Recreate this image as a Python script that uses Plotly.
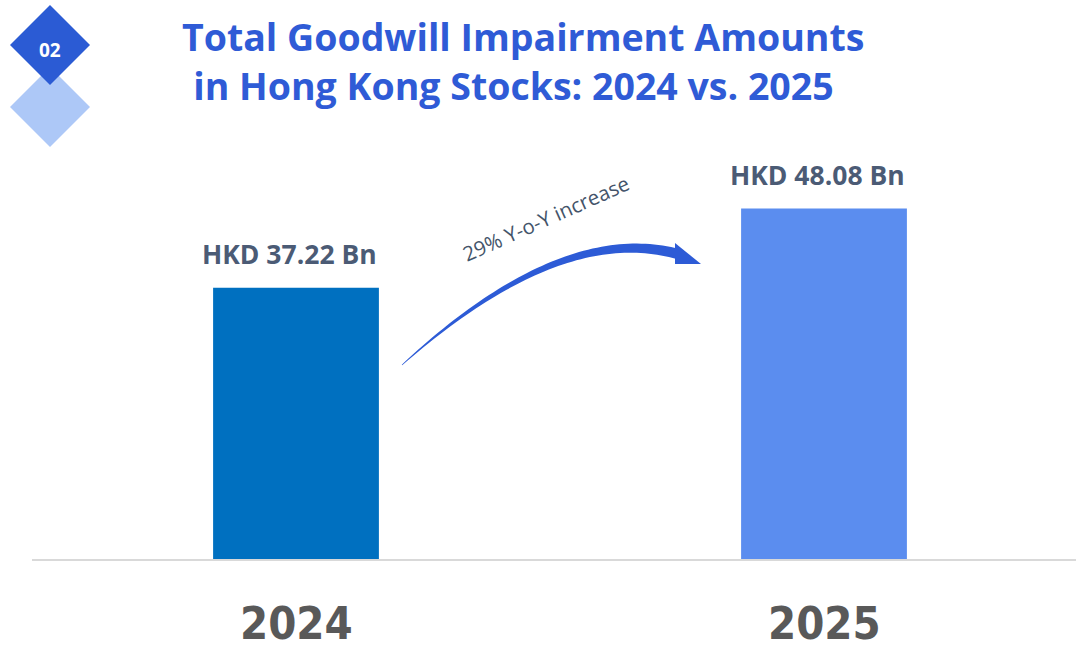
import numpy as np
import plotly.graph_objects as go

# Data
years = ["2024", "2025"]
amounts_bn = [37.22, 48.08]
bar_colors = ["#0070c0", "#5b8def"]
value_labels = ["HKD 37.22 Bn", "HKD 48.08 Bn"]
growth_label = "29% Y-o-Y increase"
title_lines = ["Total Goodwill Impairment Amounts", "in Hong Kong Stocks: 2024 vs. 2025\u00a0\u00a0"]

W, H = 1076, 648
M_L, M_R, M_T, M_B = 32, 0, 150, 89
PW, PH = W - M_L - M_R, H - M_T - M_B


def px_to_paper(px, py):
    """Convert page pixel coordinates to paper coordinates."""
    return (px - M_L) / PW, (H - M_B - py) / PH


def poly_path(points):
    return "M " + " L ".join(
        f"{px_to_paper(x, y)[0]:.5f},{px_to_paper(x, y)[1]:.5f}" for x, y in points
    ) + " Z"


x_pos = list(range(len(years)))

fig = go.Figure()
fig.add_trace(go.Bar(
    x=x_pos,
    y=amounts_bn,
    width=0.314,
    marker=dict(color=bar_colors, line=dict(width=0)),
    hoverinfo="skip",
))

# Value labels above bars
for xi, v, lab in zip(x_pos, amounts_bn, value_labels):
    fig.add_annotation(
        x=xi, y=v, xref="x", yref="y", text=f"<b>{lab}</b>",
        showarrow=False, xanchor="center", yanchor="bottom", yshift=14, xshift=-7,
        font=dict(family="Open Sans", size=26.5, color="#4b5b75"),
    )

# Year labels under the axis
year_font = "DejaVu Sans Condensed, Liberation Sans Narrow, Arial Narrow, DejaVu Sans, sans-serif"
for xi, yr in zip(x_pos, years):
    fig.add_annotation(
        x=xi, y=0, xref="x", yref="y", text=f"<b>{yr}</b>",
        showarrow=False, xanchor="center", yanchor="middle", yshift=-64,
        font=dict(family=year_font, size=45, color="#595959"),
    )

# Curved tapering arrow between the bars
p0 = np.array([402.0, 365.0])
p1 = np.array([560.0, 222.0])
p2 = np.array([678.0, 254.0])
t = np.linspace(0, 1, 60)
pts = ((1 - t) ** 2)[:, None] * p0 + (2 * (1 - t) * t)[:, None] * p1 + (t ** 2)[:, None] * p2
d = (2 * (1 - t))[:, None] * (p1 - p0) + (2 * t)[:, None] * (p2 - p1)
n = np.stack([-d[:, 1], d[:, 0]], axis=1)
n /= np.linalg.norm(n, axis=1)[:, None]
half = 0.3 + 5.0 * t ** 0.8
upper = pts + n * half[:, None]
lower = pts - n * half[:, None]
fig.add_shape(type="path", xref="paper", yref="paper",
              path=poly_path(np.vstack([upper, lower[::-1]])),
              fillcolor="#2d5bd6", line=dict(width=0), layer="above")
fig.add_shape(type="path", xref="paper", yref="paper",
              path=poly_path([(675, 243), (701, 264), (675, 264)]),
              fillcolor="#2d5bd6", line=dict(width=0), layer="above")

gx, gy = px_to_paper(546, 218)
fig.add_annotation(
    x=gx, y=gy, xref="paper", yref="paper", text=growth_label,
    showarrow=False, textangle=-24, xanchor="center", yanchor="middle",
    font=dict(family="Open Sans", size=20.5, color="#44546a"),
)


# Badge: two diamonds with the section number
def diamond(cx, cy, r):
    return poly_path([(cx, cy - r), (cx + r, cy), (cx, cy + r), (cx - r, cy)])


fig.add_shape(type="path", xref="paper", yref="paper", path=diamond(50, 107, 40),
              fillcolor="#adc8f7", line=dict(width=0), layer="above")
fig.add_shape(type="path", xref="paper", yref="paper", path=diamond(50, 45, 40),
              fillcolor="#2b5bd4", line=dict(width=0), layer="above")
bx, by = px_to_paper(50, 50)
fig.add_annotation(x=bx, y=by, xref="paper", yref="paper", text="<b>02</b>",
                   showarrow=False, xanchor="center", yanchor="middle",
                   font=dict(family="Open Sans", size=19, color="white"))

# Two-line title
tx, ty = px_to_paper(523, 61)
fig.add_annotation(x=tx, y=ty, xref="paper", yref="paper",
                   text="<b>" + "<br>".join(title_lines) + "</b>",
                   showarrow=False, xanchor="center", yanchor="middle", align="center",
                   font=dict(family="Open Sans", size=37.5, color="#2f5bd6"))

fig.update_layout(
    width=W, height=H,
    margin=dict(l=M_L, r=M_R, t=M_T, b=M_B, autoexpand=False),
    paper_bgcolor="white", plot_bgcolor="white",
    showlegend=False,
    xaxis=dict(
        range=[-0.5, PW / 528 - 0.5],
        showticklabels=False, ticks="", automargin=False,
        showline=True, linecolor="#d9d9d9", linewidth=2,
        showgrid=False, zeroline=False, fixedrange=True,
    ),
    yaxis=dict(
        range=[0, PH / 7.29], visible=False, showgrid=False, zeroline=False,
        fixedrange=True, automargin=False,
    ),
)

fig.write_html("out.html")
